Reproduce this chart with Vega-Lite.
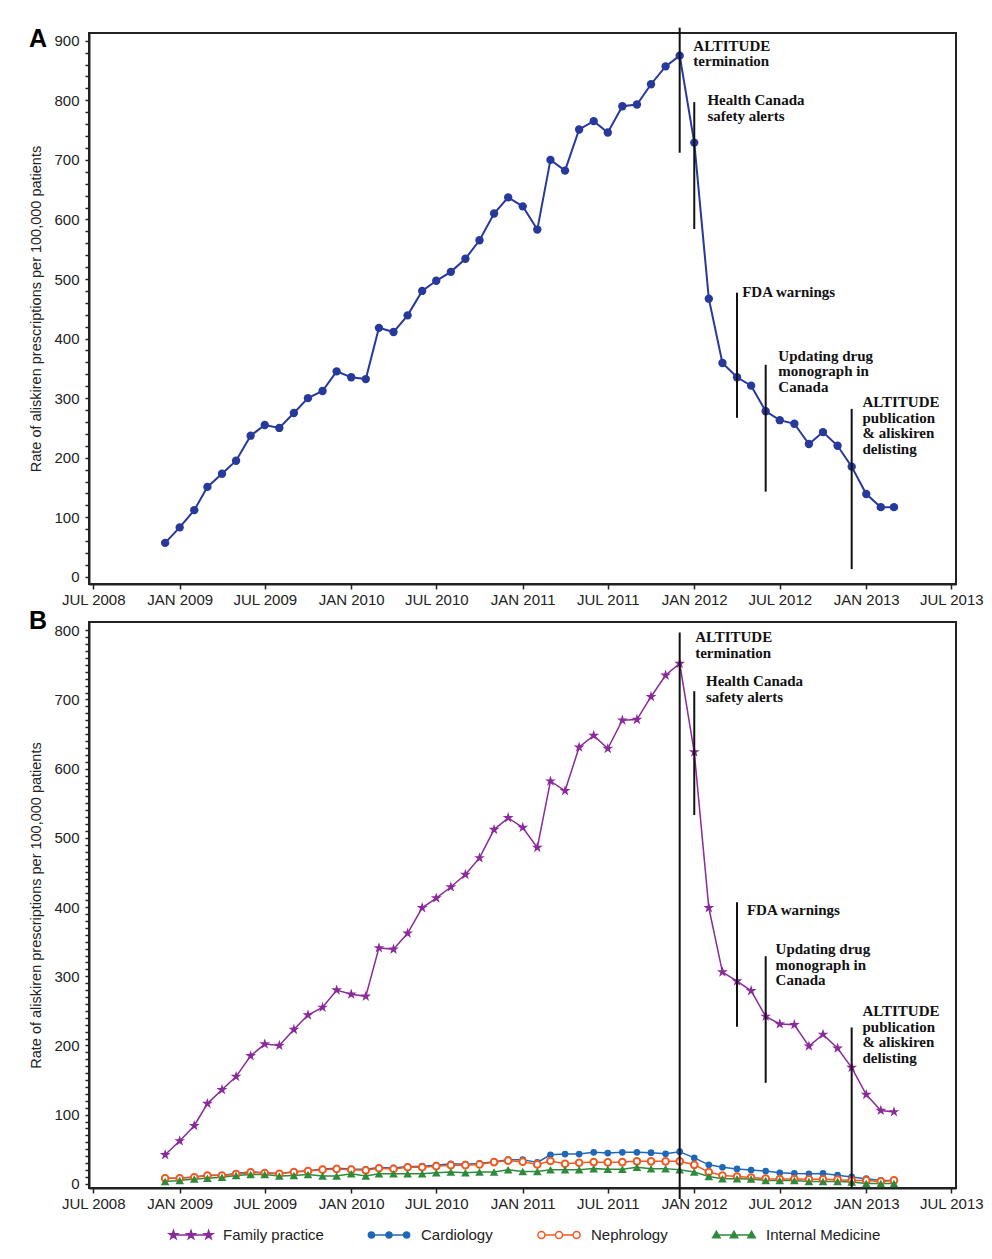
{
  "$schema": "https://vega.github.io/schema/vega-lite/v6.json",
  "background": "white",
  "padding": {"left": 27, "top": 25, "right": 5, "bottom": 5},
  "spacing": 0,
  "resolve": {"scale": {"color": "independent"}, "legend": {"color": "independent"}},
  "config": {
    "font": "Liberation Sans",
    "view": {"stroke": "#222", "strokeWidth": 2},
    "axis": {"labelFont": "Liberation Sans", "labelFontSize": 15, "labelColor": "#222", "titleFont": "Liberation Sans", "titleFontSize": 14.5, "titleFontWeight": "normal", "titleColor": "#222", "domainColor": "#222", "domainWidth": 2, "tickColor": "#222", "tickWidth": 1.5, "grid": false, "labelOverlap": false, "labelFlush": false}
  },
  "datasets": {
    "total": [
      {"date": "2008-12-01", "value": 57}, {"date": "2009-01-01", "value": 83}, {"date": "2009-02-01", "value": 112}, {"date": "2009-03-01", "value": 151}, {"date": "2009-04-01", "value": 173}, {"date": "2009-05-01", "value": 195}, {"date": "2009-06-01", "value": 237}, {"date": "2009-07-01", "value": 255}, {"date": "2009-08-01", "value": 250}, {"date": "2009-09-01", "value": 275}, {"date": "2009-10-01", "value": 300}, {"date": "2009-11-01", "value": 312}, {"date": "2009-12-01", "value": 345},
      {"date": "2010-01-01", "value": 335}, {"date": "2010-02-01", "value": 332}, {"date": "2010-03-01", "value": 418}, {"date": "2010-04-01", "value": 411}, {"date": "2010-05-01", "value": 439}, {"date": "2010-06-01", "value": 480}, {"date": "2010-07-01", "value": 497}, {"date": "2010-08-01", "value": 512}, {"date": "2010-09-01", "value": 534}, {"date": "2010-10-01", "value": 565}, {"date": "2010-11-01", "value": 610}, {"date": "2010-12-01", "value": 637},
      {"date": "2011-01-01", "value": 622}, {"date": "2011-02-01", "value": 583}, {"date": "2011-03-01", "value": 700}, {"date": "2011-04-01", "value": 682}, {"date": "2011-05-01", "value": 751}, {"date": "2011-06-01", "value": 765}, {"date": "2011-07-01", "value": 746}, {"date": "2011-08-01", "value": 790}, {"date": "2011-09-01", "value": 793}, {"date": "2011-10-01", "value": 827}, {"date": "2011-11-01", "value": 857}, {"date": "2011-12-01", "value": 875},
      {"date": "2012-01-01", "value": 729}, {"date": "2012-02-01", "value": 467}, {"date": "2012-03-01", "value": 359}, {"date": "2012-04-01", "value": 335}, {"date": "2012-05-01", "value": 321}, {"date": "2012-06-01", "value": 278}, {"date": "2012-07-01", "value": 263}, {"date": "2012-08-01", "value": 257}, {"date": "2012-09-01", "value": 223}, {"date": "2012-10-01", "value": 243}, {"date": "2012-11-01", "value": 220}, {"date": "2012-12-01", "value": 185},
      {"date": "2013-01-01", "value": 139}, {"date": "2013-02-01", "value": 117}, {"date": "2013-03-01", "value": 117}
    ],
    "specialty": [
      {"date": "2008-12-01", "series": "Cardiology", "value": 8}, {"date": "2009-01-01", "series": "Cardiology", "value": 8.5}, {"date": "2009-02-01", "series": "Cardiology", "value": 10}, {"date": "2009-03-01", "series": "Cardiology", "value": 12.5}, {"date": "2009-04-01", "series": "Cardiology", "value": 12.5}, {"date": "2009-05-01", "series": "Cardiology", "value": 15}, {"date": "2009-06-01", "series": "Cardiology", "value": 17.5}, {"date": "2009-07-01", "series": "Cardiology", "value": 16}, {"date": "2009-08-01", "series": "Cardiology", "value": 15}, {"date": "2009-09-01", "series": "Cardiology", "value": 17.5}, {"date": "2009-10-01", "series": "Cardiology", "value": 19}, {"date": "2009-11-01", "series": "Cardiology", "value": 21.5}, {"date": "2009-12-01", "series": "Cardiology", "value": 22.5},
      {"date": "2010-01-01", "series": "Cardiology", "value": 21.5}, {"date": "2010-02-01", "series": "Cardiology", "value": 21}, {"date": "2010-03-01", "series": "Cardiology", "value": 23.5}, {"date": "2010-04-01", "series": "Cardiology", "value": 23}, {"date": "2010-05-01", "series": "Cardiology", "value": 25}, {"date": "2010-06-01", "series": "Cardiology", "value": 25.5}, {"date": "2010-07-01", "series": "Cardiology", "value": 27}, {"date": "2010-08-01", "series": "Cardiology", "value": 29}, {"date": "2010-09-01", "series": "Cardiology", "value": 28.5}, {"date": "2010-10-01", "series": "Cardiology", "value": 29.5}, {"date": "2010-11-01", "series": "Cardiology", "value": 32}, {"date": "2010-12-01", "series": "Cardiology", "value": 35},
      {"date": "2011-01-01", "series": "Cardiology", "value": 35}, {"date": "2011-02-01", "series": "Cardiology", "value": 31}, {"date": "2011-03-01", "series": "Cardiology", "value": 42}, {"date": "2011-04-01", "series": "Cardiology", "value": 43}, {"date": "2011-05-01", "series": "Cardiology", "value": 43}, {"date": "2011-06-01", "series": "Cardiology", "value": 45.5}, {"date": "2011-07-01", "series": "Cardiology", "value": 44.5}, {"date": "2011-08-01", "series": "Cardiology", "value": 45.5}, {"date": "2011-09-01", "series": "Cardiology", "value": 45.5}, {"date": "2011-10-01", "series": "Cardiology", "value": 45}, {"date": "2011-11-01", "series": "Cardiology", "value": 43.5}, {"date": "2011-12-01", "series": "Cardiology", "value": 46.5},
      {"date": "2012-01-01", "series": "Cardiology", "value": 37.5}, {"date": "2012-02-01", "series": "Cardiology", "value": 27.5}, {"date": "2012-03-01", "series": "Cardiology", "value": 24}, {"date": "2012-04-01", "series": "Cardiology", "value": 21.5}, {"date": "2012-05-01", "series": "Cardiology", "value": 20}, {"date": "2012-06-01", "series": "Cardiology", "value": 18.5}, {"date": "2012-07-01", "series": "Cardiology", "value": 16}, {"date": "2012-08-01", "series": "Cardiology", "value": 15}, {"date": "2012-09-01", "series": "Cardiology", "value": 14.5}, {"date": "2012-10-01", "series": "Cardiology", "value": 15}, {"date": "2012-11-01", "series": "Cardiology", "value": 12.5}, {"date": "2012-12-01", "series": "Cardiology", "value": 10},
      {"date": "2013-01-01", "series": "Cardiology", "value": 7.5}, {"date": "2013-02-01", "series": "Cardiology", "value": 5}, {"date": "2013-03-01", "series": "Cardiology", "value": 5},

      {"date": "2008-12-01", "series": "Nephrology", "value": 8}, {"date": "2009-01-01", "series": "Nephrology", "value": 8}, {"date": "2009-02-01", "series": "Nephrology", "value": 9.5}, {"date": "2009-03-01", "series": "Nephrology", "value": 12}, {"date": "2009-04-01", "series": "Nephrology", "value": 12}, {"date": "2009-05-01", "series": "Nephrology", "value": 14}, {"date": "2009-06-01", "series": "Nephrology", "value": 16.5}, {"date": "2009-07-01", "series": "Nephrology", "value": 15.5}, {"date": "2009-08-01", "series": "Nephrology", "value": 14.5}, {"date": "2009-09-01", "series": "Nephrology", "value": 17}, {"date": "2009-10-01", "series": "Nephrology", "value": 18.5}, {"date": "2009-11-01", "series": "Nephrology", "value": 20.5}, {"date": "2009-12-01", "series": "Nephrology", "value": 21.5},
      {"date": "2010-01-01", "series": "Nephrology", "value": 20.5}, {"date": "2010-02-01", "series": "Nephrology", "value": 19.5}, {"date": "2010-03-01", "series": "Nephrology", "value": 22.5}, {"date": "2010-04-01", "series": "Nephrology", "value": 21.5}, {"date": "2010-05-01", "series": "Nephrology", "value": 24}, {"date": "2010-06-01", "series": "Nephrology", "value": 24}, {"date": "2010-07-01", "series": "Nephrology", "value": 25.5}, {"date": "2010-08-01", "series": "Nephrology", "value": 27}, {"date": "2010-09-01", "series": "Nephrology", "value": 27}, {"date": "2010-10-01", "series": "Nephrology", "value": 28}, {"date": "2010-11-01", "series": "Nephrology", "value": 31.5}, {"date": "2010-12-01", "series": "Nephrology", "value": 33.5},
      {"date": "2011-01-01", "series": "Nephrology", "value": 32}, {"date": "2011-02-01", "series": "Nephrology", "value": 28}, {"date": "2011-03-01", "series": "Nephrology", "value": 33}, {"date": "2011-04-01", "series": "Nephrology", "value": 29}, {"date": "2011-05-01", "series": "Nephrology", "value": 30.5}, {"date": "2011-06-01", "series": "Nephrology", "value": 31.5}, {"date": "2011-07-01", "series": "Nephrology", "value": 31}, {"date": "2011-08-01", "series": "Nephrology", "value": 31.5}, {"date": "2011-09-01", "series": "Nephrology", "value": 32.5}, {"date": "2011-10-01", "series": "Nephrology", "value": 32.5}, {"date": "2011-11-01", "series": "Nephrology", "value": 32.5}, {"date": "2011-12-01", "series": "Nephrology", "value": 32.5},
      {"date": "2012-01-01", "series": "Nephrology", "value": 27.5}, {"date": "2012-02-01", "series": "Nephrology", "value": 17}, {"date": "2012-03-01", "series": "Nephrology", "value": 12}, {"date": "2012-04-01", "series": "Nephrology", "value": 10.5}, {"date": "2012-05-01", "series": "Nephrology", "value": 9}, {"date": "2012-06-01", "series": "Nephrology", "value": 7.5}, {"date": "2012-07-01", "series": "Nephrology", "value": 7}, {"date": "2012-08-01", "series": "Nephrology", "value": 7}, {"date": "2012-09-01", "series": "Nephrology", "value": 6.5}, {"date": "2012-10-01", "series": "Nephrology", "value": 6.5}, {"date": "2012-11-01", "series": "Nephrology", "value": 6}, {"date": "2012-12-01", "series": "Nephrology", "value": 5},
      {"date": "2013-01-01", "series": "Nephrology", "value": 5}, {"date": "2013-02-01", "series": "Nephrology", "value": 3.5}, {"date": "2013-03-01", "series": "Nephrology", "value": 5},

      {"date": "2008-12-01", "series": "Internal Medicine", "value": 3.5}, {"date": "2009-01-01", "series": "Internal Medicine", "value": 5}, {"date": "2009-02-01", "series": "Internal Medicine", "value": 7}, {"date": "2009-03-01", "series": "Internal Medicine", "value": 8}, {"date": "2009-04-01", "series": "Internal Medicine", "value": 9.5}, {"date": "2009-05-01", "series": "Internal Medicine", "value": 12}, {"date": "2009-06-01", "series": "Internal Medicine", "value": 13.5}, {"date": "2009-07-01", "series": "Internal Medicine", "value": 13.5}, {"date": "2009-08-01", "series": "Internal Medicine", "value": 11.5}, {"date": "2009-09-01", "series": "Internal Medicine", "value": 12}, {"date": "2009-10-01", "series": "Internal Medicine", "value": 13.5}, {"date": "2009-11-01", "series": "Internal Medicine", "value": 11.5}, {"date": "2009-12-01", "series": "Internal Medicine", "value": 11.5},
      {"date": "2010-01-01", "series": "Internal Medicine", "value": 14.5}, {"date": "2010-02-01", "series": "Internal Medicine", "value": 11.5}, {"date": "2010-03-01", "series": "Internal Medicine", "value": 14.5}, {"date": "2010-04-01", "series": "Internal Medicine", "value": 14.5}, {"date": "2010-05-01", "series": "Internal Medicine", "value": 14.5}, {"date": "2010-06-01", "series": "Internal Medicine", "value": 14.5}, {"date": "2010-07-01", "series": "Internal Medicine", "value": 16}, {"date": "2010-08-01", "series": "Internal Medicine", "value": 17}, {"date": "2010-09-01", "series": "Internal Medicine", "value": 16}, {"date": "2010-10-01", "series": "Internal Medicine", "value": 17}, {"date": "2010-11-01", "series": "Internal Medicine", "value": 17}, {"date": "2010-12-01", "series": "Internal Medicine", "value": 20.5},
      {"date": "2011-01-01", "series": "Internal Medicine", "value": 18}, {"date": "2011-02-01", "series": "Internal Medicine", "value": 18}, {"date": "2011-03-01", "series": "Internal Medicine", "value": 20.5}, {"date": "2011-04-01", "series": "Internal Medicine", "value": 20.5}, {"date": "2011-05-01", "series": "Internal Medicine", "value": 20.5}, {"date": "2011-06-01", "series": "Internal Medicine", "value": 22}, {"date": "2011-07-01", "series": "Internal Medicine", "value": 21}, {"date": "2011-08-01", "series": "Internal Medicine", "value": 21}, {"date": "2011-09-01", "series": "Internal Medicine", "value": 24}, {"date": "2011-10-01", "series": "Internal Medicine", "value": 22}, {"date": "2011-11-01", "series": "Internal Medicine", "value": 22}, {"date": "2011-12-01", "series": "Internal Medicine", "value": 20.5},
      {"date": "2012-01-01", "series": "Internal Medicine", "value": 17}, {"date": "2012-02-01", "series": "Internal Medicine", "value": 10.5}, {"date": "2012-03-01", "series": "Internal Medicine", "value": 7.5}, {"date": "2012-04-01", "series": "Internal Medicine", "value": 7.5}, {"date": "2012-05-01", "series": "Internal Medicine", "value": 7}, {"date": "2012-06-01", "series": "Internal Medicine", "value": 5}, {"date": "2012-07-01", "series": "Internal Medicine", "value": 5}, {"date": "2012-08-01", "series": "Internal Medicine", "value": 5}, {"date": "2012-09-01", "series": "Internal Medicine", "value": 3.5}, {"date": "2012-10-01", "series": "Internal Medicine", "value": 3.5}, {"date": "2012-11-01", "series": "Internal Medicine", "value": 3.5}, {"date": "2012-12-01", "series": "Internal Medicine", "value": 2.5},
      {"date": "2013-01-01", "series": "Internal Medicine", "value": 0.5}, {"date": "2013-02-01", "series": "Internal Medicine", "value": 0.5}, {"date": "2013-03-01", "series": "Internal Medicine", "value": 0.5},

      {"date": "2008-12-01", "series": "Family practice", "value": 42}, {"date": "2009-01-01", "series": "Family practice", "value": 62}, {"date": "2009-02-01", "series": "Family practice", "value": 84}, {"date": "2009-03-01", "series": "Family practice", "value": 116}, {"date": "2009-04-01", "series": "Family practice", "value": 136}, {"date": "2009-05-01", "series": "Family practice", "value": 155}, {"date": "2009-06-01", "series": "Family practice", "value": 185}, {"date": "2009-07-01", "series": "Family practice", "value": 202}, {"date": "2009-08-01", "series": "Family practice", "value": 200}, {"date": "2009-09-01", "series": "Family practice", "value": 223}, {"date": "2009-10-01", "series": "Family practice", "value": 244}, {"date": "2009-11-01", "series": "Family practice", "value": 255}, {"date": "2009-12-01", "series": "Family practice", "value": 280},
      {"date": "2010-01-01", "series": "Family practice", "value": 274}, {"date": "2010-02-01", "series": "Family practice", "value": 271}, {"date": "2010-03-01", "series": "Family practice", "value": 341}, {"date": "2010-04-01", "series": "Family practice", "value": 339}, {"date": "2010-05-01", "series": "Family practice", "value": 362}, {"date": "2010-06-01", "series": "Family practice", "value": 399}, {"date": "2010-07-01", "series": "Family practice", "value": 413}, {"date": "2010-08-01", "series": "Family practice", "value": 429}, {"date": "2010-09-01", "series": "Family practice", "value": 447}, {"date": "2010-10-01", "series": "Family practice", "value": 471}, {"date": "2010-11-01", "series": "Family practice", "value": 512}, {"date": "2010-12-01", "series": "Family practice", "value": 529},
      {"date": "2011-01-01", "series": "Family practice", "value": 515}, {"date": "2011-02-01", "series": "Family practice", "value": 486}, {"date": "2011-03-01", "series": "Family practice", "value": 582}, {"date": "2011-04-01", "series": "Family practice", "value": 568}, {"date": "2011-05-01", "series": "Family practice", "value": 631}, {"date": "2011-06-01", "series": "Family practice", "value": 648}, {"date": "2011-07-01", "series": "Family practice", "value": 629}, {"date": "2011-08-01", "series": "Family practice", "value": 670}, {"date": "2011-09-01", "series": "Family practice", "value": 671}, {"date": "2011-10-01", "series": "Family practice", "value": 704}, {"date": "2011-11-01", "series": "Family practice", "value": 735}, {"date": "2011-12-01", "series": "Family practice", "value": 752},
      {"date": "2012-01-01", "series": "Family practice", "value": 624}, {"date": "2012-02-01", "series": "Family practice", "value": 399}, {"date": "2012-03-01", "series": "Family practice", "value": 306}, {"date": "2012-04-01", "series": "Family practice", "value": 293}, {"date": "2012-05-01", "series": "Family practice", "value": 279}, {"date": "2012-06-01", "series": "Family practice", "value": 242}, {"date": "2012-07-01", "series": "Family practice", "value": 231}, {"date": "2012-08-01", "series": "Family practice", "value": 230}, {"date": "2012-09-01", "series": "Family practice", "value": 199}, {"date": "2012-10-01", "series": "Family practice", "value": 216}, {"date": "2012-11-01", "series": "Family practice", "value": 196}, {"date": "2012-12-01", "series": "Family practice", "value": 168},
      {"date": "2013-01-01", "series": "Family practice", "value": 129}, {"date": "2013-02-01", "series": "Family practice", "value": 106}, {"date": "2013-03-01", "series": "Family practice", "value": 104}
    ],
    "annotA": [
      {"date": "2011-12-01", "y1": 922, "y2": 712, "label_date": "2011-12-30", "label_y": 883, "label": "ALTITUDE\ntermination"},
      {"date": "2012-01-01", "y1": 797, "y2": 584, "label_date": "2012-01-29", "label_y": 792, "label": "Health Canada\nsafety alerts"},
      {"date": "2012-04-01", "y1": 477, "y2": 267, "label_date": "2012-04-12", "label_y": 470, "label": "FDA warnings"},
      {"date": "2012-06-01", "y1": 356, "y2": 143, "label_date": "2012-06-28", "label_y": 363, "label": "Updating drug\nmonograph in\nCanada"},
      {"date": "2012-12-01", "y1": 282, "y2": 13, "label_date": "2012-12-24", "label_y": 285, "label": "ALTITUDE\npublication\n& aliskiren\ndelisting"}
    ],
    "annotB": [
      {"date": "2011-12-01", "y1": 797, "y2": -22, "label_date": "2012-01-03", "label_y": 783, "label": "ALTITUDE\ntermination"},
      {"date": "2012-01-01", "y1": 712, "y2": 533, "label_date": "2012-01-26", "label_y": 719, "label": "Health Canada\nsafety alerts"},
      {"date": "2012-04-01", "y1": 407, "y2": 227, "label_date": "2012-04-22", "label_y": 388, "label": "FDA warnings"},
      {"date": "2012-06-01", "y1": 329, "y2": 146, "label_date": "2012-06-22", "label_y": 332, "label": "Updating drug\nmonograph in\nCanada"},
      {"date": "2012-12-01", "y1": 226, "y2": -6, "label_date": "2012-12-24", "label_y": 242, "label": "ALTITUDE\npublication\n& aliskiren\ndelisting"}
    ]
  },
  "vconcat": [
    {
      "width": 867,
      "height": 551,
      "title": {"text": "A", "anchor": "start", "frame": "bounds", "font": "Liberation Sans", "fontSize": 25, "fontWeight": "bold", "color": "#000", "baseline": "alphabetic", "offset": 0, "dy": 45},
      "layer": [
        {
          "data": {"name": "total"},
          "mark": {"type": "line", "color": "#27399a", "strokeWidth": 2},
          "encoding": {
            "x": {"field": "date", "type": "temporal",
              "scale": {"type": "utc", "domain": [{"year": 2008, "month": 6, "date": 22, "utc": true}, {"year": 2013, "month": 7, "date": 11, "utc": true}]},
              "axis": {"title": null, "tickSize": 5, "labelPadding": 3, "labelOverlap": false, "labelFlush": false, "tickCount": 50,
                "values": [{"year": 2008, "month": 7, "date": 1, "utc": true}, {"year": 2009, "month": 1, "date": 1, "utc": true}, {"year": 2009, "month": 7, "date": 1, "utc": true}, {"year": 2010, "month": 1, "date": 1, "utc": true}, {"year": 2010, "month": 7, "date": 1, "utc": true}, {"year": 2011, "month": 1, "date": 1, "utc": true}, {"year": 2011, "month": 7, "date": 1, "utc": true}, {"year": 2012, "month": 1, "date": 1, "utc": true}, {"year": 2012, "month": 7, "date": 1, "utc": true}, {"year": 2013, "month": 1, "date": 1, "utc": true}, {"year": 2013, "month": 7, "date": 1, "utc": true}],
                "labelExpr": "upper(utcFormat(datum.value, '%b %Y'))"}},
            "y": {"field": "value", "type": "quantitative",
              "scale": {"domain": [-12, 913], "nice": false, "zero": false},
              "axis": {"title": "Rate of aliskiren prescriptions per 100,000 patients", "titlePadding": 10, "tickSize": 4, "labelPadding": 6, "labelOverlap": false, "tickCount": 200,
                "values": [0,20,40,60,80,100,120,140,160,180,200,220,240,260,280,300,320,340,360,380,400,420,440,460,480,500,520,540,560,580,600,620,640,660,680,700,720,740,760,780,800,820,840,860,880,900],
                "labelExpr": "datum.value % 100 === 0 ? format(datum.value, 'd') : ''"}}
          }
        },
        {
          "data": {"name": "total"},
          "mark": {"type": "point", "filled": true, "color": "#27399a", "opacity": 1, "size": 70},
          "encoding": {
            "x": {"field": "date", "type": "temporal"},
            "y": {"field": "value", "type": "quantitative"}
          }
        },
        {
          "data": {"name": "annotA"},
          "mark": {"type": "rule", "color": "#111", "strokeWidth": 2},
          "encoding": {
            "x": {"field": "date", "type": "temporal"},
            "y": {"field": "y1", "type": "quantitative"},
            "y2": {"field": "y2"}
          }
        },
        {
          "data": {"name": "annotA"},
          "mark": {"type": "text", "align": "left", "baseline": "alphabetic", "font": "Liberation Serif", "fontWeight": "bold", "fontSize": 15, "lineHeight": 15.5, "lineBreak": "\n", "color": "#111"},
          "encoding": {
            "x": {"field": "label_date", "type": "temporal"},
            "y": {"field": "label_y", "type": "quantitative"},
            "text": {"field": "label", "type": "nominal"}
          }
        }
      ]
    },
    {
      "width": 867,
      "height": 566,
      "title": {"text": "B", "anchor": "start", "frame": "bounds", "font": "Liberation Sans", "fontSize": 25, "fontWeight": "bold", "color": "#000", "baseline": "alphabetic", "offset": 0, "dy": 32},
      "layer": [
        {
          "data": {"name": "specialty"},
          "mark": {"type": "line", "strokeWidth": 1.5},
          "encoding": {
            "x": {"field": "date", "type": "temporal",
              "scale": {"type": "utc", "domain": [{"year": 2008, "month": 6, "date": 22, "utc": true}, {"year": 2013, "month": 7, "date": 11, "utc": true}]},
              "axis": {"title": null, "tickSize": 5, "labelPadding": 3, "labelOverlap": false, "labelFlush": false, "tickCount": 50,
                "values": [{"year": 2008, "month": 7, "date": 1, "utc": true}, {"year": 2009, "month": 1, "date": 1, "utc": true}, {"year": 2009, "month": 7, "date": 1, "utc": true}, {"year": 2010, "month": 1, "date": 1, "utc": true}, {"year": 2010, "month": 7, "date": 1, "utc": true}, {"year": 2011, "month": 1, "date": 1, "utc": true}, {"year": 2011, "month": 7, "date": 1, "utc": true}, {"year": 2012, "month": 1, "date": 1, "utc": true}, {"year": 2012, "month": 7, "date": 1, "utc": true}, {"year": 2013, "month": 1, "date": 1, "utc": true}, {"year": 2013, "month": 7, "date": 1, "utc": true}],
                "labelExpr": "upper(utcFormat(datum.value, '%b %Y'))"}},
            "y": {"field": "value", "type": "quantitative",
              "scale": {"domain": [-6, 812], "nice": false, "zero": false},
              "axis": {"title": "Rate of aliskiren prescriptions per 100,000 patients", "titlePadding": 10, "tickSize": 4, "labelPadding": 6, "labelOverlap": false, "tickCount": 200,
                "values": [0,10,20,30,40,50,60,70,80,90,100,110,120,130,140,150,160,170,180,190,200,210,220,230,240,250,260,270,280,290,300,310,320,330,340,350,360,370,380,390,400,410,420,430,440,450,460,470,480,490,500,510,520,530,540,550,560,570,580,590,600,610,620,630,640,650,660,670,680,690,700,710,720,730,740,750,760,770,780,790,800],
                "labelExpr": "datum.value % 100 === 0 ? format(datum.value, 'd') : ''"}},
            "color": {"field": "series", "type": "nominal",
              "scale": {"domain": ["Family practice", "Cardiology", "Nephrology", "Internal Medicine"], "range": ["#8b2a9b", "#1f67b9", "#f05a22", "#2e8b3c"]},
              "legend": {"title": null, "orient": "none", "direction": "horizontal", "legendX": 79, "legendY": 590, "padding": 0,
                "labelFont": "Liberation Sans", "labelFontSize": 15, "labelColor": "#222", "labelOffset": 9, "columnPadding": 41, "symbolSize": 1936,
                "encode": {"symbols": {"update": {
                  "shape": {"signal": "datum.value === 'Family practice' ? 'M-0.8,0L0.8,0M-0.8,-0.2L-0.7551,-0.0618L-0.6098,-0.0618L-0.7273,0.0236L-0.6824,0.1618L-0.8,0.0764L-0.9176,0.1618L-0.8727,0.0236L-0.9902,-0.0618L-0.8449,-0.0618ZM0,-0.2L0.0449,-0.0618L0.1902,-0.0618L0.0727,0.0236L0.1176,0.1618L0,0.0764L-0.1176,0.1618L-0.0727,0.0236L-0.1902,-0.0618L-0.0449,-0.0618ZM0.8,-0.2L0.8449,-0.0618L0.9902,-0.0618L0.8727,0.0236L0.9176,0.1618L0.8,0.0764L0.6824,0.1618L0.7273,0.0236L0.6098,-0.0618L0.7551,-0.0618Z' : datum.value === 'Cardiology' ? 'M-0.8,0L0.8,0M-0.94,0A0.14,0.14,0,1,0,-0.66,0A0.14,0.14,0,1,0,-0.94,0ZM-0.14,0A0.14,0.14,0,1,0,0.14,0A0.14,0.14,0,1,0,-0.14,0ZM0.66,0A0.14,0.14,0,1,0,0.94,0A0.14,0.14,0,1,0,0.66,0Z' : datum.value === 'Nephrology' ? 'M-0.64,0L-0.16,0M0.16,0L0.64,0M-0.96,0A0.16,0.16,0,1,0,-0.64,0A0.16,0.16,0,1,0,-0.96,0ZM-0.16,0A0.16,0.16,0,1,0,0.16,0A0.16,0.16,0,1,0,-0.16,0ZM0.64,0A0.16,0.16,0,1,0,0.96,0A0.16,0.16,0,1,0,0.64,0Z' : 'M-0.8,0L0.8,0M-0.8,-0.17L-0.63,0.13L-0.97,0.13ZM0,-0.17L0.17,0.13L-0.17,0.13ZM0.8,-0.17L0.97,0.13L0.63,0.13Z'"},
                  "fill": {"signal": "datum.value === 'Family practice' ? '#8b2a9b' : datum.value === 'Cardiology' ? '#1f67b9' : datum.value === 'Nephrology' ? '#ffffff' : '#2e8b3c'"},
                  "stroke": {"signal": "datum.value === 'Family practice' ? '#8b2a9b' : datum.value === 'Cardiology' ? '#1f67b9' : datum.value === 'Nephrology' ? '#f05a22' : '#2e8b3c'"},
                  "strokeWidth": {"value": 1.5},
                  "opacity": {"value": 1},
                  "fillOpacity": {"value": 1},
                  "size": {"value": 1936}
                }}}
              }}
          }
        },
        {
          "data": {"name": "specialty"},
          "transform": [{"filter": "datum.series === 'Cardiology'"}],
          "mark": {"type": "point", "shape": "circle", "filled": true, "color": "#1f67b9", "opacity": 1, "size": 45},
          "encoding": {"x": {"field": "date", "type": "temporal"}, "y": {"field": "value", "type": "quantitative"}}
        },
        {
          "data": {"name": "specialty"},
          "transform": [{"filter": "datum.series === 'Nephrology'"}],
          "mark": {"type": "point", "shape": "circle", "filled": false, "fill": "#ffffff", "fillOpacity": 1, "stroke": "#f05a22", "strokeWidth": 2, "opacity": 1, "size": 45},
          "encoding": {"x": {"field": "date", "type": "temporal"}, "y": {"field": "value", "type": "quantitative"}}
        },
        {
          "data": {"name": "specialty"},
          "transform": [{"filter": "datum.series === 'Internal Medicine'"}],
          "mark": {"type": "point", "shape": "triangle-up", "filled": true, "color": "#2e8b3c", "opacity": 1, "size": 75},
          "encoding": {"x": {"field": "date", "type": "temporal"}, "y": {"field": "value", "type": "quantitative"}}
        },
        {
          "data": {"name": "specialty"},
          "transform": [{"filter": "datum.series === 'Family practice'"}],
          "mark": {"type": "point", "shape": "M0,-1L0.2245,-0.309L0.9511,-0.309L0.3633,0.118L0.5878,0.809L0,0.382L-0.5878,0.809L-0.3633,0.118L-0.9511,-0.309L-0.2245,-0.309Z", "filled": true, "color": "#8b2a9b", "opacity": 1, "size": 130},
          "encoding": {"x": {"field": "date", "type": "temporal"}, "y": {"field": "value", "type": "quantitative"}}
        },
        {
          "data": {"name": "annotB"},
          "mark": {"type": "rule", "color": "#111", "strokeWidth": 2},
          "encoding": {
            "x": {"field": "date", "type": "temporal"},
            "y": {"field": "y1", "type": "quantitative"},
            "y2": {"field": "y2"}
          }
        },
        {
          "data": {"name": "annotB"},
          "mark": {"type": "text", "align": "left", "baseline": "alphabetic", "font": "Liberation Serif", "fontWeight": "bold", "fontSize": 15, "lineHeight": 15.5, "lineBreak": "\n", "color": "#111"},
          "encoding": {
            "x": {"field": "label_date", "type": "temporal"},
            "y": {"field": "label_y", "type": "quantitative"},
            "text": {"field": "label", "type": "nominal"}
          }
        }
      ]
    }
  ]
}
